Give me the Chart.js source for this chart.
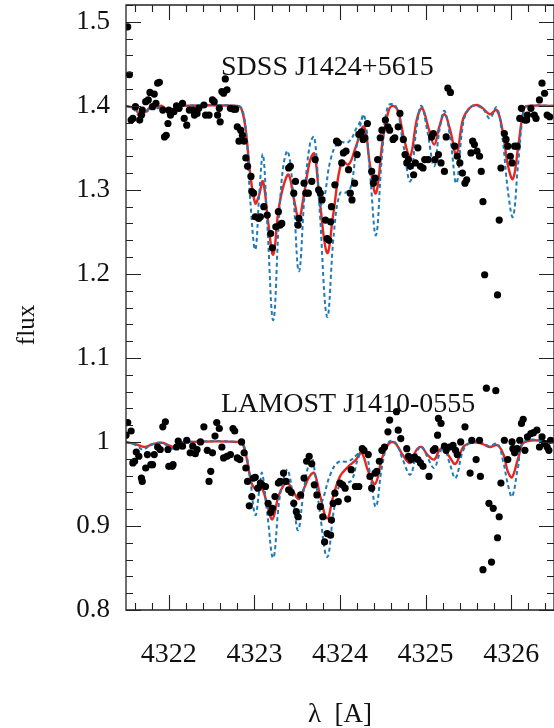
<!DOCTYPE html>
<html>
<head>
<meta charset="utf-8">
<script src="https://cdn.jsdelivr.net/npm/chart.js@4.4.0/dist/chart.umd.min.js"></script>
<style>
  html, body { margin: 0; padding: 0; background: #fff; }
</style>
</head>
<body>
<canvas id="spec" width="554" height="728"></canvas>
<script>
// axis ticks
const X_TICKS = [4322, 4323, 4324, 4325, 4326];
const Y_TICKS = [0.8, 0.9, 1.0, 1.1, 1.2, 1.3, 1.4, 1.5];
const Y_TICK_LABELS = ['0.8', '0.9', '1', '1.1', '1.2', '1.3', '1.4', '1.5'];

// star names written inside the plot (left end of the text, baseline)
const STAR_NAMES = ['SDSS J1424+5615', 'LAMOST J1410-0555'];
const STAR_NAME_X = [4322.61, 4322.61];
const STAR_NAME_Y = [1.437, 1.036];

// SDSS J1424+5615 (upper spectrum), observed flux
const sdssObsX = [4321.52,4321.54,4321.56,4321.58,4321.61,4321.66,4321.68,4321.69,4321.73,4321.76,
  4321.78,4321.81,4321.83,4321.85,4321.87,4321.89,4321.93,4321.95,4321.97,4321.99,
  4322.00,4322.02,4322.06,4322.09,4322.12,4322.16,4322.18,4322.21,4322.24,4322.28,
  4322.30,4322.33,4322.35,4322.41,4322.43,4322.47,4322.51,4322.53,4322.57,4322.59,
  4322.60,4322.62,4322.64,4322.66,4322.68,4322.72,4322.76,4322.78,4322.80,4322.82,
  4322.84,4322.86,4322.88,4322.90,4322.92,4322.96,4322.97,4322.99,4323.01,4323.05,
  4323.07,4323.11,4323.15,4323.19,4323.21,4323.25,4323.28,4323.30,4323.32,4323.40,
  4323.42,4323.46,4323.48,4323.51,4323.52,4323.58,4323.60,4323.63,4323.67,4323.71,
  4323.75,4323.77,4323.79,4323.83,4323.85,4323.87,4323.89,4323.90,4323.94,4323.96,
  4323.98,4324.02,4324.04,4324.07,4324.10,4324.12,4324.14,4324.17,4324.20,4324.22,
  4324.25,4324.27,4324.29,4324.32,4324.37,4324.39,4324.41,4324.44,4324.47,4324.49,
  4324.53,4324.56,4324.58,4324.62,4324.64,4324.68,4324.70,4324.74,4324.76,4324.78,
  4324.80,4324.82,4324.86,4324.88,4324.91,4324.94,4324.97,4324.99,4325.03,4325.07,
  4325.09,4325.11,4325.15,4325.18,4325.22,4325.24,4325.26,4325.29,4325.34,4325.37,
  4325.40,4325.43,4325.46,4325.48,4325.53,4325.55,4325.57,4325.60,4325.63,4325.65,
  4325.67,4325.69,4325.84,4325.86,4325.88,4325.92,4325.94,4325.96,4325.99,4326.01,
  4326.04,4326.07,4326.10,4326.12,4326.16,4326.18,4326.19,4326.23,4326.27,4326.29,
  4326.33,4326.36,4326.39,4326.42,4326.45];
const sdssObsY = [1.494,1.437,1.383,1.385,1.399,1.383,1.389,1.395,1.405,1.407,
  1.416,1.399,1.414,1.403,1.427,1.428,1.395,1.363,1.365,1.379,
  1.395,1.389,1.393,1.400,1.397,1.403,1.385,1.377,1.395,1.395,
  1.389,1.391,1.397,1.401,1.389,1.389,1.407,1.405,1.389,1.397,
  1.381,1.417,1.415,1.432,1.419,1.397,1.396,1.396,1.375,1.358,
  1.371,1.365,1.358,1.338,1.328,1.316,1.298,1.296,1.268,1.266,
  1.268,1.280,1.270,1.248,1.231,1.256,1.274,1.258,1.260,1.326,
  1.328,1.296,1.310,1.258,1.266,1.308,1.296,1.296,1.310,1.336,
  1.300,1.296,1.288,1.264,1.242,1.240,1.262,1.280,1.306,1.358,
  1.356,1.332,1.344,1.346,1.324,1.296,1.288,1.308,1.342,1.366,
  1.369,1.360,1.362,1.379,1.322,1.308,1.314,1.336,1.362,1.371,
  1.383,1.375,1.371,1.360,1.362,1.375,1.391,1.360,1.342,1.332,
  1.336,1.328,1.318,1.332,1.350,1.328,1.326,1.336,1.336,1.363,
  1.367,1.336,1.342,1.332,1.322,1.363,1.421,1.416,1.352,1.340,
  1.332,1.320,1.308,1.312,1.344,1.358,1.354,1.346,1.340,1.322,
  1.286,1.199,1.175,1.264,1.326,1.367,1.360,1.352,1.340,1.332,
  1.352,1.352,1.385,1.397,1.383,1.383,1.389,1.397,1.389,1.385,
  1.407,1.427,1.415,1.389,1.387];

// SDSS model, red solid
const sdssRedX = [4321.50,4321.60,4321.66,4321.73,4321.80,4321.86,4321.92,4322.00,4322.06,4322.15,
  4322.80,4322.85,4322.90,4322.95,4323.01,4323.05,4323.10,4323.16,4323.22,4323.28,
  4323.34,4323.40,4323.46,4323.52,4323.58,4323.65,4323.70,4323.76,4323.85,4323.92,
  4324.02,4324.10,4324.18,4324.28,4324.35,4324.42,4324.50,4324.57,4324.62,4324.68,
  4324.75,4324.82,4324.90,4324.96,4325.03,4325.10,4325.16,4325.22,4325.29,4325.36,
  4325.44,4325.52,4325.60,4325.67,4325.75,4325.83,4325.90,4325.96,4326.02,4326.08,
  4326.15,4326.20,4326.50];
const sdssRedY = [1.400,1.397,1.390,1.393,1.400,1.398,1.400,1.392,1.397,1.400,
  1.400,1.396,1.370,1.320,1.284,1.292,1.310,1.262,1.223,1.275,
  1.305,1.318,1.290,1.266,1.295,1.335,1.343,1.290,1.225,1.270,
  1.334,1.330,1.350,1.375,1.330,1.296,1.360,1.395,1.400,1.393,
  1.360,1.340,1.385,1.397,1.375,1.354,1.375,1.390,1.370,1.342,
  1.385,1.398,1.401,1.397,1.390,1.395,1.370,1.330,1.313,1.350,
  1.397,1.400,1.400];

// SDSS models, blue dotted
const sdssBlueX = [4321.50,4321.60,4321.67,4321.74,4321.80,4321.86,4321.93,4322.01,4322.08,4322.15,
  4322.80,4322.86,4322.91,4322.95,4323.01,4323.06,4323.10,4323.15,4323.22,4323.29,
  4323.34,4323.39,4323.45,4323.52,4323.59,4323.65,4323.70,4323.76,4323.85,4323.93,
  4324.00,4324.07,4324.13,4324.20,4324.28,4324.35,4324.42,4324.49,4324.56,4324.65,
  4324.73,4324.82,4324.89,4324.95,4325.02,4325.10,4325.16,4325.22,4325.29,4325.36,
  4325.44,4325.52,4325.60,4325.68,4325.75,4325.83,4325.90,4325.96,4326.02,4326.08,
  4326.15,4326.20,4326.50];
const sdssBlueY = [1.400,1.395,1.386,1.392,1.400,1.397,1.399,1.388,1.396,1.400,
  1.400,1.395,1.360,1.290,1.229,1.300,1.342,1.260,1.145,1.270,
  1.330,1.346,1.300,1.203,1.300,1.355,1.363,1.280,1.149,1.250,
  1.296,1.297,1.305,1.355,1.389,1.320,1.246,1.340,1.400,1.400,
  1.360,1.310,1.370,1.400,1.370,1.328,1.370,1.394,1.360,1.308,
  1.380,1.398,1.400,1.395,1.385,1.398,1.360,1.300,1.268,1.330,
  1.397,1.400,1.400];
const sdssBlue2X = [4323.76,4323.81,4323.89,4323.98,4324.10,4324.20,4324.28];
const sdssBlue2Y = [1.280,1.288,1.336,1.356,1.357,1.375,1.389];

// LAMOST J1410-0555 (lower spectrum), observed flux
const lamostObsX = [4321.50,4321.52,4321.56,4321.58,4321.60,4321.62,4321.65,4321.68,4321.69,4321.73,
  4321.75,4321.79,4321.81,4321.83,4321.87,4321.90,4321.93,4321.96,4321.99,4322.00,
  4322.04,4322.05,4322.09,4322.11,4322.16,4322.21,4322.25,4322.28,4322.31,4322.33,
  4322.37,4322.41,4322.45,4322.47,4322.49,4322.51,4322.54,4322.56,4322.59,4322.62,
  4322.64,4322.68,4322.72,4322.75,4322.77,4322.80,4322.83,4322.85,4322.88,4322.90,
  4322.92,4322.94,4322.97,4322.99,4323.01,4323.04,4323.07,4323.09,4323.13,4323.16,
  4323.19,4323.21,4323.24,4323.28,4323.30,4323.34,4323.37,4323.40,4323.43,4323.46,
  4323.49,4323.51,4323.54,4323.58,4323.61,4323.64,4323.67,4323.70,4323.73,4323.77,
  4323.80,4323.82,4323.85,4323.89,4323.90,4323.92,4323.94,4323.98,4324.00,4324.03,
  4324.06,4324.09,4324.13,4324.18,4324.22,4324.26,4324.28,4324.33,4324.35,4324.37,
  4324.41,4324.43,4324.46,4324.49,4324.52,4324.56,4324.58,4324.66,4324.68,4324.71,
  4324.78,4324.80,4324.83,4324.87,4324.91,4324.94,4324.97,4325.04,4325.09,4325.11,
  4325.14,4325.15,4325.18,4325.22,4325.24,4325.28,4325.32,4325.35,4325.37,4325.41,
  4325.46,4325.52,4325.54,4325.59,4325.63,4325.64,4325.67,4325.71,4325.74,4325.77,
  4325.79,4325.82,4325.84,4325.86,4325.88,4325.92,4325.96,4326.01,4326.02,4326.04,
  4326.07,4326.10,4326.12,4326.14,4326.16,4326.19,4326.23,4326.26,4326.30,4326.33,
  4326.36,4326.39,4326.42,4326.44,4326.46];
const lamostObsY = [1.008,1.023,1.013,0.975,0.977,0.988,0.983,0.957,0.953,0.969,
  0.985,0.973,0.973,0.985,0.994,0.991,1.018,1.024,0.991,0.971,
  0.971,0.973,0.994,1.001,0.995,1.002,0.987,0.995,0.986,0.991,
  1.000,1.018,0.990,0.953,0.965,0.987,1.007,1.023,1.016,0.994,
  0.981,0.983,0.985,1.016,1.013,0.981,0.979,1.000,0.987,0.969,
  0.953,0.924,0.935,0.957,0.958,0.945,0.951,0.949,0.947,0.927,
  0.916,0.921,0.935,0.951,0.953,0.963,0.953,0.943,0.940,0.927,
  0.917,0.911,0.937,0.957,0.977,0.983,0.974,0.949,0.937,0.923,
  0.911,0.881,0.891,0.889,0.907,0.927,0.939,0.929,0.951,0.949,
  0.945,0.932,0.967,0.947,0.947,0.992,0.990,0.985,0.959,0.945,
  0.963,0.965,0.977,0.990,0.994,1.012,1.026,1.036,1.014,1.004,
  0.992,0.983,0.979,0.982,0.979,0.975,0.971,0.959,0.990,0.992,
  1.008,1.028,1.022,0.995,0.990,0.994,0.996,0.990,0.985,1.000,
  1.018,0.963,1.002,0.979,1.002,0.959,0.848,1.064,0.927,0.857,
  0.921,1.061,0.886,0.911,0.951,1.002,0.979,1.000,0.992,0.987,
  0.992,1.002,1.022,1.027,0.990,1.006,1.010,1.011,1.014,0.994,
  1.006,0.998,0.994,0.990,1.002];

// LAMOST model, red solid
const lamostRedX = [4321.50,4321.62,4321.72,4321.80,4321.92,4322.00,4322.06,4322.14,4322.20,4322.82,
  4322.87,4322.92,4322.97,4323.03,4323.09,4323.15,4323.21,4323.28,4323.34,4323.39,
  4323.46,4323.52,4323.58,4323.65,4323.70,4323.77,4323.85,4323.92,4324.00,4324.10,
  4324.18,4324.25,4324.33,4324.41,4324.49,4324.57,4324.64,4324.73,4324.82,4324.89,
  4324.95,4325.02,4325.10,4325.16,4325.21,4325.28,4325.35,4325.44,4325.53,4325.62,
  4325.70,4325.75,4325.84,4325.91,4325.96,4326.01,4326.08,4326.16,4326.50];
const lamostRedY = [1.000,0.997,0.994,0.997,0.999,0.996,0.994,0.999,1.000,1.000,
  0.996,0.975,0.950,0.943,0.944,0.925,0.908,0.935,0.948,0.951,
  0.940,0.932,0.945,0.960,0.963,0.935,0.909,0.935,0.959,0.971,
  0.978,0.987,0.965,0.950,0.980,0.998,0.999,0.985,0.975,0.990,
  0.994,0.985,0.979,0.990,0.993,0.982,0.974,0.994,0.999,0.999,
  0.996,0.994,0.996,0.985,0.965,0.958,0.980,1.000,1.000];

// LAMOST models, blue dotted
const lamostBlueX = [4321.50,4321.62,4321.70,4321.80,4321.92,4322.00,4322.06,4322.14,4322.20,4322.82,
  4322.88,4322.94,4323.01,4323.06,4323.09,4323.15,4323.22,4323.29,4323.35,4323.39,
  4323.45,4323.51,4323.58,4323.64,4323.68,4323.76,4323.85,4323.93,4324.00,4324.07,
  4324.14,4324.21,4324.29,4324.36,4324.42,4324.49,4324.57,4324.65,4324.73,4324.82,
  4324.89,4324.95,4325.03,4325.10,4325.16,4325.21,4325.28,4325.35,4325.44,4325.53,
  4325.62,4325.70,4325.75,4325.84,4325.91,4325.96,4326.01,4326.08,4326.15,4326.50];
const lamostBlueY = [1.000,0.996,0.991,0.997,0.999,0.994,0.992,0.998,1.000,1.000,
  0.995,0.965,0.913,0.945,0.963,0.915,0.862,0.930,0.960,0.967,
  0.935,0.895,0.945,0.975,0.979,0.920,0.863,0.920,0.950,0.951,
  0.955,0.980,0.994,0.955,0.923,0.970,1.000,0.999,0.980,0.961,
  0.985,0.995,0.980,0.969,0.985,0.995,0.975,0.957,0.990,1.000,
  1.000,0.997,0.995,0.998,0.975,0.950,0.935,0.970,1.000,1.000];
const lamostBlue2X = [4323.76,4323.81,4323.89,4323.98,4324.10,4324.20,4324.29];
const lamostBlue2Y = [0.920,0.935,0.962,0.976,0.977,0.985,0.994];

const SERIF = '"Liberation Serif", "Times New Roman", serif';
const RED = '#e8261e';
const BLUE = '#1f7ab8';

function pairs(xs, ys) {
  return xs.map((x, i) => ({ x: x, y: ys[i] }));
}

function obsSet(xs, ys) {
  return {
    data: pairs(xs, ys),
    showLine: false,
    pointRadius: 3.6,
    pointHoverRadius: 3.6,
    pointBackgroundColor: '#000',
    pointBorderWidth: 0,
    order: 0
  };
}

function redSet(xs, ys) {
  return {
    data: pairs(xs, ys),
    showLine: true,
    borderColor: RED,
    borderWidth: 2.4,
    pointRadius: 0,
    tension: 0.4,
    order: 2
  };
}

function blueSet(xs, ys) {
  return {
    data: pairs(xs, ys),
    showLine: true,
    borderColor: BLUE,
    borderWidth: 2,
    borderDash: [4, 3],
    pointRadius: 0,
    tension: 0.4,
    order: 1
  };
}

// inward ticks on all four sides, frame, star names and the y title
const frame = {
  id: 'frame',
  afterDraw(chart) {
    const ctx = chart.ctx;
    const a = chart.chartArea;
    const xs = chart.scales.x;
    const ys = chart.scales.y;
    ctx.save();
    ctx.strokeStyle = '#222';
    ctx.lineWidth = 1.3;
    ctx.beginPath();
    ctx.moveTo(a.right, a.top);
    ctx.lineTo(a.left, a.top);
    ctx.lineTo(a.left, a.bottom);
    ctx.lineTo(a.right, a.bottom);
    ctx.lineTo(a.right, a.top);
    ctx.stroke();

    ctx.lineWidth = 1.1;
    ctx.beginPath();
    for (let i = Math.ceil(xs.min * 5); i <= Math.floor(xs.max * 5); i++) {
      const px = Math.round(xs.getPixelForValue(i / 5)) + 0.5;
      const len = i % 5 === 0 ? 15 : 7;
      ctx.moveTo(px, a.bottom); ctx.lineTo(px, a.bottom - len);
      ctx.moveTo(px, a.top); ctx.lineTo(px, a.top + len);
    }
    for (let i = Math.ceil(ys.min * 50 - 1e-6); i <= Math.floor(ys.max * 50 + 1e-6); i++) {
      const py = Math.round(ys.getPixelForValue(i / 50)) + 0.5;
      const len = i % 5 === 0 ? 15 : 7;
      ctx.moveTo(a.left, py); ctx.lineTo(a.left + len, py);
      ctx.moveTo(a.right, py); ctx.lineTo(a.right - len, py);
    }
    ctx.stroke();

    ctx.fillStyle = '#111';
    ctx.font = '28px ' + SERIF;
    ctx.textAlign = 'left';
    ctx.textBaseline = 'alphabetic';
    STAR_NAMES.forEach((name, i) => {
      ctx.fillText(name, xs.getPixelForValue(STAR_NAME_X[i]), ys.getPixelForValue(STAR_NAME_Y[i]));
    });

    // y axis title
    ctx.translate(27, 325);
    ctx.rotate(-Math.PI / 2);
    ctx.font = '25px ' + SERIF;
    ctx.textAlign = 'center';
    ctx.textBaseline = 'middle';
    ctx.fillText('flux', 0, 0);
    ctx.restore();
  }
};

new Chart(document.getElementById('spec'), {
  type: 'scatter',
  data: {
    datasets: [
      blueSet(sdssBlueX, sdssBlueY),
      blueSet(sdssBlue2X, sdssBlue2Y),
      redSet(sdssRedX, sdssRedY),
      obsSet(sdssObsX, sdssObsY),
      blueSet(lamostBlueX, lamostBlueY),
      blueSet(lamostBlue2X, lamostBlue2Y),
      redSet(lamostRedX, lamostRedY),
      obsSet(lamostObsX, lamostObsY)
    ]
  },
  options: {
    responsive: false,
    animation: false,
    devicePixelRatio: 1,
    layout: { autoPadding: false, padding: { top: 5, right: -2, left: 0, bottom: 0 } },
    plugins: { legend: { display: false }, tooltip: { enabled: false } },
    scales: {
      x: {
        type: 'linear',
        min: 4321.5,
        max: 4326.5,
        grid: { display: false, drawTicks: false },
        border: { display: false },
        afterBuildTicks: (s) => { s.ticks = X_TICKS.map(v => ({ value: v })); },
        afterFit: (s) => { s.height = 118; s.paddingLeft = 0; s.paddingRight = 0; },
        ticks: {
          padding: 28,
          color: '#111',
          font: { family: SERIF, size: 28 },
          maxRotation: 0,
          callback: (v) => String(v)
        },
        title: {
          display: true,
          text: 'λ  [A]',
          color: '#111',
          font: { family: SERIF, size: 27, lineHeight: 1 },
          padding: { top: 0, bottom: 0 }
        }
      },
      y: {
        type: 'linear',
        min: 0.8,
        max: 1.52,
        grid: { display: false, drawTicks: false },
        border: { display: false },
        afterBuildTicks: (s) => { s.ticks = Y_TICKS.map(v => ({ value: v })); },
        afterFit: (s) => { s.width = 126; s.paddingTop = 0; s.paddingBottom = 0; },
        ticks: {
          padding: 16,
          color: '#111',
          font: { family: SERIF, size: 27 },
          callback: (v) => Y_TICK_LABELS[Y_TICKS.findIndex(t => Math.abs(t - v) < 1e-6)]
        }
      }
    }
  },
  plugins: [frame]
});
</script>
</body>
</html>
